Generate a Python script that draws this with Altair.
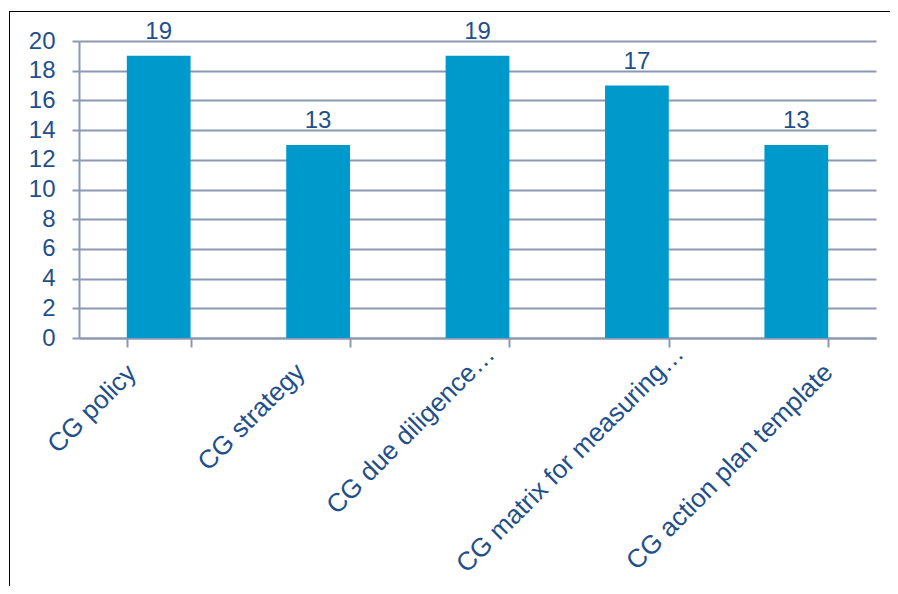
import altair as alt
import pandas as pd

categories = [
    "CG policy",
    "CG strategy",
    "CG due diligence…",
    "CG matrix for measuring…",
    "CG action plan template",
]
counts = [19, 13, 19, 17, 13]
y_ticks = [0, 2, 4, 6, 8, 10, 12, 14, 16, 18, 20]

df = pd.DataFrame({"category": categories, "count": counts})

TEXT = "#1F4F8B"
GRID = "#8C98B2"
BAR = "#0099CC"
FONT = "Liberation Sans"
PLOT_H = 297

x_axis = alt.Axis(
    labels=False, title=None, tickBand="extent", ticks=True, tickSize=9,
    tickWidth=2, tickColor=GRID, domainColor=GRID, domainWidth=2, grid=False,
)
y_axis = alt.Axis(
    values=y_ticks, title=None, labelFontSize=24, labelColor=TEXT, labelFont=FONT,
    labelPadding=17, tickSize=7, tickWidth=2, tickColor=GRID, domainColor=GRID,
    domainWidth=2, gridColor=GRID, gridWidth=2, grid=True,
)
x_enc = alt.X("category:N", sort=categories,
              scale=alt.Scale(paddingInner=0.6, paddingOuter=0.3), axis=x_axis)
y_scale = alt.Scale(domain=[0, 20], nice=False)

bars = alt.Chart(df).mark_bar(color=BAR).encode(
    x=x_enc, y=alt.Y("count:Q", scale=y_scale, axis=y_axis)
)

values = alt.Chart(df).mark_text(
    dy=-16.5, baseline="alphabetic", fontSize=24, color=TEXT, font=FONT
).encode(x=x_enc, y=alt.Y("count:Q", scale=y_scale, axis=y_axis), text="count:Q")

# rotated category labels: top-aligned, centre placed by label length
xlabels = alt.Chart(df).transform_calculate(
    lpx="330.7 + 4.14 * length(datum.category)"
    " - (indexof(datum.category, '…') >= 0 ? 12 : 0)"
).transform_calculate(
    ly=f"20 - datum.lpx * 20 / {PLOT_H}"
).mark_text(
    angle=315, align="center", baseline="middle", fontSize=26, color=TEXT, font=FONT,
    dx=-47, dy=-47,
).encode(
    x=x_enc,
    y=alt.Y("ly:Q", scale=y_scale, axis=y_axis),
    text="category:N",
)

# outer frame of the chart box (its right and bottom edges lie off the page)
frame = alt.Chart(df).mark_rect(
    fillOpacity=0, stroke="black", strokeWidth=1
).encode(
    x=alt.value(-69.5), x2=alt.value(1200), y=alt.value(-29.5), y2=alt.value(900)
)

chart = alt.layer(bars, values, xlabels, frame).properties(
    width=797,
    height=PLOT_H,
    padding={"left": 71, "top": 33, "right": 14, "bottom": 248},
    autosize=alt.AutoSizeParams(type="none"),
    background="white",
).configure_view(strokeWidth=0)

chart.save("out.html", embed_options={"renderer": "svg", "actions": False})
